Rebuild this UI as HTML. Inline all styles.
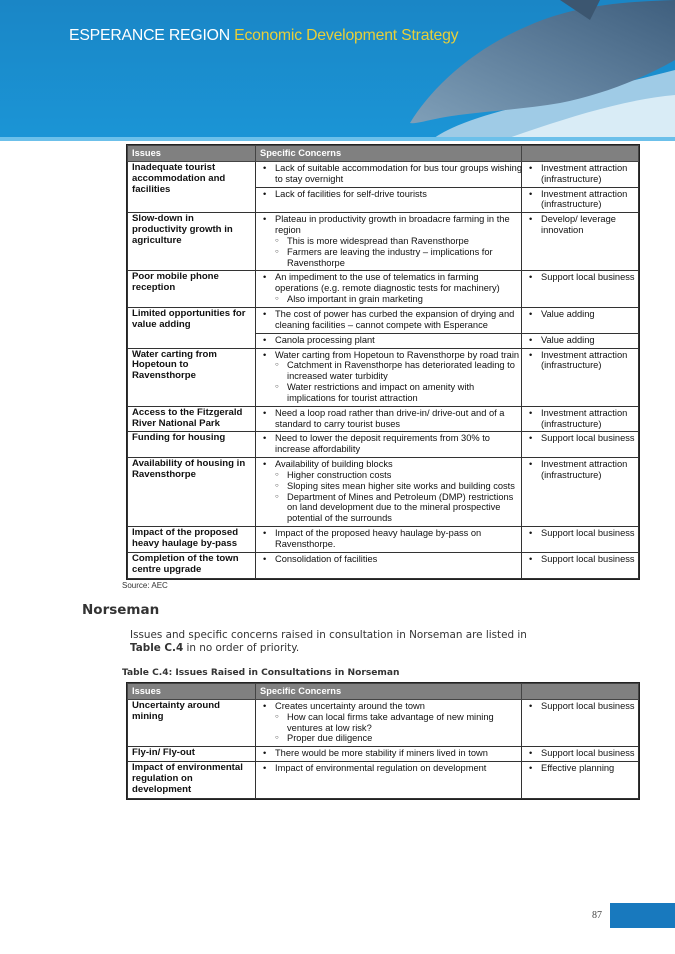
<!DOCTYPE html>
<html><head><meta charset="utf-8">
<style>
*{margin:0;padding:0;box-sizing:border-box}
body{width:675px;height:954px;position:relative;background:#fff;font-family:"Liberation Sans",Arial,sans-serif;color:#111;overflow:hidden}
.abs{position:absolute}
table{border-collapse:collapse;position:absolute;left:127px;width:511px;table-layout:fixed;font-size:9.3px;line-height:10.85px}
td,th{border:1px solid #333;vertical-align:top;padding:1px 3px 2px 4px;white-space:nowrap}
th{background:#808080;color:#fff;text-align:left;font-weight:bold;padding:2px 4px 2px 4px;border-color:#444}
td.i{font-weight:bold;font-size:9.6px}
.b{position:relative;padding-left:15px}
.b:before{content:"•";position:absolute;left:3px}
.s{position:relative;padding-left:27px}
.s:before{content:"○";position:absolute;left:15px;font-size:6px}
table{outline:1.5px solid #222}
</style></head><body>
<svg class="abs" style="left:0;top:0" width="675" height="141">
<defs>
<linearGradient id="bg" x1="0" y1="0" x2="0" y2="1"><stop offset="0" stop-color="#1a86c6"/><stop offset="1" stop-color="#1b95d6"/></linearGradient>
<linearGradient id="dl" x1="0" y1="1" x2="1" y2="0"><stop offset="0" stop-color="#7f9fb8"/><stop offset="0.5" stop-color="#5f7f9c"/><stop offset="1" stop-color="#3f5f7e"/></linearGradient>
</defs>
<rect width="675" height="141" fill="url(#bg)"/>
<path d="M430 141 C470 110 560 100 675 70 L675 141 Z" fill="#9fcbe6"/>
<path d="M500 141 C560 120 620 100 675 95 L675 141 Z" fill="#d9ecf6"/>
<path d="M410 123 C430 90 470 50 530 25 C570 8 610 2 675 0 L675 60 C640 80 600 95 560 103 C520 110 470 112 440 118 C425 121 415 124 410 123 Z" fill="url(#dl)"/>
<path d="M560 0 L600 0 L590 20 Z" fill="#3c5670"/>
<rect y="137" width="675" height="4" fill="#6cc0ea"/>
</svg>
<div class="abs" style="left:69px;top:27px;font-size:15.8px;color:#fff;white-space:nowrap;letter-spacing:-0.2px">ESPERANCE REGION <span style="color:#e8cf3a">Economic Development Strategy</span></div>

<table style="top:145px">
<colgroup><col style="width:128px"><col style="width:266px"><col style="width:117px"></colgroup>
<tr><th>Issues</th><th>Specific Concerns</th><th></th></tr>
<tr><td class="i" rowspan="2">Inadequate tourist<br>accommodation and<br>facilities</td><td><div class="b">Lack of suitable accommodation for bus tour groups wishing<br>to stay overnight</div></td><td><div class="b">Investment attraction<br>(infrastructure)</div></td></tr>
<tr><td><div class="b">Lack of facilities for self-drive tourists</div></td><td><div class="b">Investment attraction<br>(infrastructure)</div></td></tr>
<tr><td class="i">Slow-down in<br>productivity growth in<br>agriculture</td><td><div class="b">Plateau in productivity growth in broadacre farming in the<br>region</div><div class="s">This is more widespread than Ravensthorpe</div><div class="s">Farmers are leaving the industry – implications for<br>Ravensthorpe</div></td><td><div class="b">Develop/ leverage<br>innovation</div></td></tr>
<tr><td class="i">Poor mobile phone<br>reception</td><td><div class="b">An impediment to the use of telematics in farming<br>operations (e.g. remote diagnostic tests for machinery)</div><div class="s">Also important in grain marketing</div></td><td><div class="b">Support local business</div></td></tr>
<tr><td class="i" rowspan="2">Limited opportunities for<br>value adding</td><td><div class="b">The cost of power has curbed the expansion of drying and<br>cleaning facilities – cannot compete with Esperance</div></td><td><div class="b">Value adding</div></td></tr>
<tr><td><div class="b">Canola processing plant</div></td><td><div class="b">Value adding</div></td></tr>
<tr><td class="i">Water carting from<br>Hopetoun to<br>Ravensthorpe</td><td><div class="b">Water carting from Hopetoun to Ravensthorpe by road train</div><div class="s">Catchment in Ravensthorpe has deteriorated leading to<br>increased water turbidity</div><div class="s">Water restrictions and impact on amenity with<br>implications for tourist attraction</div></td><td><div class="b">Investment attraction<br>(infrastructure)</div></td></tr>
<tr><td class="i">Access to the Fitzgerald<br>River National Park</td><td><div class="b">Need a loop road rather than drive-in/ drive-out and of a<br>standard to carry tourist buses</div></td><td><div class="b">Investment attraction<br>(infrastructure)</div></td></tr>
<tr><td class="i">Funding for housing</td><td><div class="b">Need to lower the deposit requirements from 30% to<br>increase affordability</div></td><td><div class="b">Support local business</div></td></tr>
<tr><td class="i">Availability of housing in<br>Ravensthorpe</td><td><div class="b">Availability of building blocks</div><div class="s">Higher construction costs</div><div class="s">Sloping sites mean higher site works and building costs</div><div class="s">Department of Mines and Petroleum (DMP) restrictions<br>on land development due to the mineral prospective<br>potential of the surrounds</div></td><td><div class="b">Investment attraction<br>(infrastructure)</div></td></tr>
<tr><td class="i">Impact of the proposed<br>heavy haulage by-pass</td><td><div class="b">Impact of the proposed heavy haulage by-pass on<br>Ravensthorpe.</div></td><td><div class="b">Support local business</div></td></tr>
<tr><td class="i">Completion of the town<br>centre upgrade</td><td><div class="b">Consolidation of facilities</div></td><td><div class="b">Support local business</div></td></tr>
</table>

<div class="abs" style="left:122px;top:581px;font-size:8px;color:#333">Source: AEC</div>
<div class="abs" style="left:82px;top:602px;font-family:'DejaVu Sans',sans-serif;font-weight:bold;font-size:13.5px;color:#333">Norseman</div>
<div class="abs" style="left:130px;top:629px;font-family:'DejaVu Sans',sans-serif;font-size:10.4px;line-height:12.5px;color:#333;white-space:nowrap">Issues and specific concerns raised in consultation in Norseman are listed in<br><b>Table C.4</b> in no order of priority.</div>
<div class="abs" style="left:122px;top:668px;font-family:'DejaVu Sans',sans-serif;font-weight:bold;font-size:9.1px;color:#333;white-space:nowrap">Table C.4: Issues Raised in Consultations in Norseman</div>

<table style="top:683px">
<colgroup><col style="width:128px"><col style="width:266px"><col style="width:117px"></colgroup>
<tr><th>Issues</th><th>Specific Concerns</th><th></th></tr>
<tr><td class="i">Uncertainty around<br>mining</td><td><div class="b">Creates uncertainty around the town</div><div class="s">How can local firms take advantage of new mining<br>ventures at low risk?</div><div class="s">Proper due diligence</div></td><td><div class="b">Support local business</div></td></tr>
<tr><td class="i">Fly-in/ Fly-out</td><td><div class="b">There would be more stability if miners lived in town</div></td><td><div class="b">Support local business</div></td></tr>
<tr><td class="i">Impact of environmental<br>regulation on<br>development</td><td><div class="b">Impact of environmental regulation on development</div></td><td><div class="b">Effective planning</div></td></tr>
</table>

<div class="abs" style="left:610px;top:903px;width:65px;height:25px;background:#1879be"></div>
<div class="abs" style="left:592px;top:910px;font-family:'Liberation Serif',serif;font-size:10px;color:#444">87</div>
</body></html>
